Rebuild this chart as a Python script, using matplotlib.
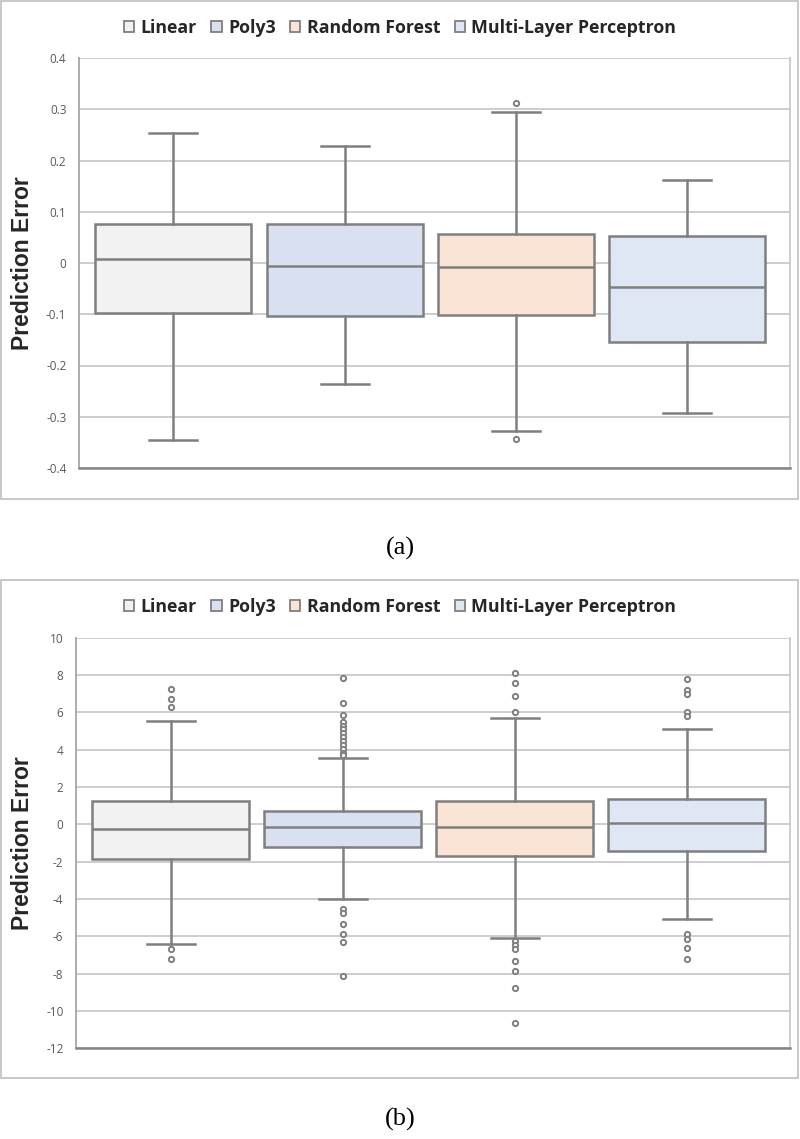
import matplotlib
matplotlib.use('Agg')
import matplotlib.pyplot as plt
from matplotlib.patches import Patch, Rectangle

# models and colours
models = ['Linear', 'Poly3', 'Random Forest', 'Multi-Layer Perceptron']
fills = ['#F1F2F1', '#D9E1F1', '#FAE4D6', '#DEE7F3']

# panel (a) box statistics
a_whislo = [-0.345, -0.237, -0.328, -0.293]
a_q1 = [-0.098, -0.103, -0.101, -0.155]
a_med = [0.007, -0.005, -0.008, -0.047]
a_q3 = [0.077, 0.077, 0.057, 0.053]
a_whishi = [0.254, 0.228, 0.295, 0.161]
a_fliers = [[], [], [0.312, -0.343], []]
a_ticks = [0.4, 0.3, 0.2, 0.1, 0, -0.1, -0.2, -0.3, -0.4]
a_ticklabels = ['0.4', '0.3', '0.2', '0.1', '0', '-0.1', '-0.2', '-0.3', '-0.4']

# panel (b) box statistics
b_whislo = [-6.41, -4.02, -6.07, -5.07]
b_q1 = [-1.84, -1.21, -1.68, -1.43]
b_med = [-0.23, -0.12, -0.14, 0.06]
b_q3 = [1.25, 0.72, 1.27, 1.37]
b_whishi = [5.54, 3.54, 5.71, 5.09]
b_fliers = [
    [7.27, 6.70, 6.27, -6.68, -7.20],
    [7.86, 6.52, 5.86, 5.50, 5.29, 5.09, 4.88, 4.66, 4.47, 4.25, 4.05, 3.84, 3.72,
     -4.55, -4.73, -5.36, -5.86, -6.29, -8.11],
    [8.09, 7.56, 6.89, 6.04, -6.23, -6.46, -6.68, -7.30, -7.84, -8.78, -10.66],
    [7.80, 7.20, 6.97, 6.04, 5.82, -5.89, -6.12, -6.61, -7.21],
]
b_ticks = [10, 8, 6, 4, 2, 0, -2, -4, -6, -8, -10, -12]
b_ticklabels = ['10', '8', '6', '4', '2', '0', '-2', '-4', '-6', '-8', '-10', '-12']

EDGE = '#7F7F7F'
GRID = '#C9C9C9'
W, H = 800, 1139

plt.rcParams['font.family'] = ['Open Sans', 'DejaVu Sans']


def draw_panel(fig, rect, whislo, q1, med, q3, whishi, fliers, ticks, ticklabels,
               frame, legend_y, caption, caption_y):
    ax = fig.add_axes(rect)
    stats = []
    for i in range(len(models)):
        stats.append(dict(whislo=whislo[i], q1=q1[i], med=med[i], q3=q3[i],
                          whishi=whishi[i], fliers=fliers[i], label=models[i]))
    bp = ax.bxp(stats, positions=[1, 2, 3, 4], widths=0.91, capwidths=0.28,
                patch_artist=True, showfliers=True,
                boxprops=dict(edgecolor=EDGE, linewidth=1.8),
                medianprops=dict(color=EDGE, linewidth=1.8),
                whiskerprops=dict(color=EDGE, linewidth=1.8),
                capprops=dict(color=EDGE, linewidth=1.8),
                flierprops=dict(marker='o', markersize=3.8, markerfacecolor='white',
                                markeredgecolor=EDGE, markeredgewidth=1.4))
    for patch, c in zip(bp['boxes'], fills):
        patch.set_facecolor(c)
    ax.set_xlim(0.45, 4.6)
    ax.set_ylim(min(ticks), max(ticks))
    ax.set_yticks(ticks)
    ax.set_yticklabels(ticklabels)
    ax.set_xticks([])
    ax.tick_params(axis='y', length=0, pad=9, labelsize=8.5, labelcolor='#595959')
    ax.yaxis.grid(True, color=GRID, linewidth=1.3)
    ax.set_axisbelow(True)
    ax.spines['top'].set_visible(False)
    ax.spines['left'].set_color('#A6A6A6')
    ax.spines['left'].set_linewidth(1.3)
    ax.spines['bottom'].set_color('#858585')
    ax.spines['bottom'].set_linewidth(1.8)
    ax.spines['right'].set_color('#C9C9C9')
    ax.spines['right'].set_linewidth(1.3)

    yc = rect[1] + rect[3] / 2
    fig.text(23 / W, yc, 'Prediction Error', rotation=90, ha='center', va='center',
             fontsize=16.5, fontweight='bold', color='#262626', family='Liberation Sans')

    handles = [Patch(facecolor=c, edgecolor=EDGE, linewidth=1.3) for c in fills]
    fig.legend(handles, models, loc='center', bbox_to_anchor=(0.5, 1 - legend_y / H),
               ncol=4, frameon=False, prop=dict(size=12.8, weight='bold'),
               handlelength=0.6, handleheight=0.6, handletextpad=0.35,
               columnspacing=0.8, labelcolor='#262626')

    x0, y0, x1, y1 = frame
    fig.add_artist(Rectangle((x0 / W, 1 - y1 / H), (x1 - x0) / W, (y1 - y0) / H,
                             transform=fig.transFigure, fill=False,
                             edgecolor='#BFBFBF', linewidth=1.2))
    fig.text(0.5, 1 - caption_y / H, caption, ha='center', va='center',
             fontsize=19, family='Liberation Serif', color='black')
    return ax


fig = plt.figure(figsize=(W / 100, H / 100), dpi=100)
fig.patch.set_facecolor('white')

draw_panel(fig, [79 / W, 1 - 468 / H, 711 / W, 410 / H],
           a_whislo, a_q1, a_med, a_q3, a_whishi, a_fliers, a_ticks, a_ticklabels,
           (1, 1, 798, 499), 28, '(a)', 548)
draw_panel(fig, [76 / W, 1 - 1048.3 / H, 714 / W, 410.6 / H],
           b_whislo, b_q1, b_med, b_q3, b_whishi, b_fliers, b_ticks, b_ticklabels,
           (1, 580, 798, 1078), 607, '(b)', 1119)

fig.savefig('out.png', dpi=100, facecolor='white')
